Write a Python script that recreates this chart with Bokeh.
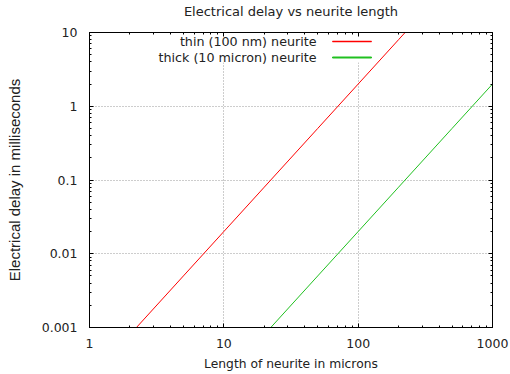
from bokeh.plotting import figure
from bokeh.models import (FixedTicker, LogAxis, CustomJSTickFormatter, Label,
                          BoxAnnotation)
from bokeh.embed import file_html
from bokeh.resources import INLINE

# ---- data ----
length_um = [1, 2, 5, 10, 20, 50, 100, 200, 500, 1000]
thin_delay_ms = [0.0002, 0.0008, 0.005, 0.02, 0.08, 0.5, 2, 8, 50, 200]
thick_delay_ms = [0.000002, 0.000008, 0.00005, 0.0002, 0.0008, 0.005, 0.02, 0.08, 0.5, 2]
x_ticks = [1, 10, 100, 1000]
y_ticks = [0.001, 0.01, 0.1, 1, 10]
series_names = ["thin (100 nm) neurite", "thick (10 micron) neurite"]
series_colors = ["#ff0000", "#20c020"]
title_text = "Electrical delay vs neurite length"

FONT = "DejaVu Sans"
TXT = "#222222"

def minors(majors):
    out = []
    for m in majors[:-1]:
        out += [m * k for k in range(2, 10)]
    return out

xt = FixedTicker(ticks=x_ticks, minor_ticks=minors(x_ticks))
yt = FixedTicker(ticks=y_ticks, minor_ticks=minors(y_ticks))
fmt = CustomJSTickFormatter(code="return tick.toString();")
blank = CustomJSTickFormatter(code="return '';")

p = figure(width=510, height=374, x_axis_type="log", y_axis_type="log",
           x_range=(1, 1000), y_range=(0.001, 10),
           output_backend="svg", toolbar_location=None,
           min_border_left=89, min_border_right=18, min_border_top=32,
           min_border_bottom=47)
p.background_fill_color = "white"
p.border_fill_color = "white"
p.outline_line_color = "black"
p.outline_line_width = 1

def style_axis(ax, show_labels):
    ax.axis_line_color = "black"
    ax.major_tick_in = 4
    ax.major_tick_out = 0
    ax.minor_tick_in = 2
    ax.minor_tick_out = 0
    ax.major_tick_line_color = "black"
    ax.minor_tick_line_color = "black"
    ax.major_label_text_font = FONT
    ax.major_label_text_color = TXT
    ax.major_label_text_font_size = "12.5px"
    if not show_labels:
        ax.major_label_standoff = 0

xa = p.xaxis[0]
xa.ticker = xt
xa.formatter = fmt
style_axis(xa, True)
xa.major_label_standoff = 11
xa.axis_label = "Length of neurite in microns"
xa.axis_label_text_font = FONT
xa.axis_label_text_font_size = "12.3px"
xa.axis_label_text_font_style = "normal"
xa.axis_label_text_color = TXT
xa.axis_label_standoff = 6

ya = p.yaxis[0]
ya.ticker = yt
ya.formatter = fmt
style_axis(ya, True)
ya.major_label_standoff = 12
ya.axis_label = "Electrical delay in milliseconds"
ya.axis_label_text_font = "Liberation Sans"
ya.axis_label_text_font_size = "15px"
ya.axis_label_text_font_style = "normal"
ya.axis_label_text_color = TXT
ya.axis_label_standoff = 16

# top axis: inward ticks only, and it carries the chart title as its label
top_ax = LogAxis(ticker=FixedTicker(ticks=x_ticks, minor_ticks=minors(x_ticks)), formatter=blank)
style_axis(top_ax, False)
top_ax.axis_label = title_text
top_ax.axis_label_text_font = FONT
top_ax.axis_label_text_font_size = "13px"
top_ax.axis_label_text_font_style = "normal"
top_ax.axis_label_text_color = TXT
top_ax.axis_label_standoff = 14
p.add_layout(top_ax, "above")
right_ax = LogAxis(ticker=FixedTicker(ticks=y_ticks, minor_ticks=minors(y_ticks)), formatter=blank)
style_axis(right_ax, False)
p.add_layout(right_ax, "right")

for g in (p.xgrid[0], p.ygrid[0]):
    g.grid_line_color = "#9a9a9a"
    g.grid_line_dash = "1 2"
    g.grid_line_width = 1
p.xgrid[0].ticker = xt
p.ygrid[0].ticker = yt

# opaque key background (hides grid under the key, as in the reference)
p.add_layout(BoxAnnotation(left=83, right=287, bottom=265, top=295,
                           left_units="screen", right_units="screen",
                           bottom_units="screen", top_units="screen",
                           fill_color="white", fill_alpha=1, line_color=None,
                           level="underlay"))

p.line(length_um, thin_delay_ms, line_color=series_colors[0], line_width=1)
p.line(length_um, thick_delay_ms, line_color=series_colors[1], line_width=1)

# key (gnuplot style: text right-aligned, sample line on the right)
legend_text_right = 227
legend_rows_y = [286, 270]
sample_x0, sample_x1 = 243, 282
for name, col, yy, lw in zip(series_names, series_colors, legend_rows_y, [1.5, 2]):
    p.add_layout(Label(x=legend_text_right, y=yy, x_units="screen", y_units="screen",
                       text=name, text_align="right", text_baseline="middle",
                       text_font=FONT, text_font_size="12.7px", text_color=TXT))
    p.add_layout(BoxAnnotation(left=sample_x0, right=sample_x1,
                               bottom=yy - 0.5, top=yy + 0.5,
                               left_units="screen", right_units="screen",
                               bottom_units="screen", top_units="screen",
                               fill_color=col, fill_alpha=1,
                               line_color=col, line_width=lw - 1,
                               line_alpha=1, level="overlay"))

open("out.html", "w").write(file_html(p, INLINE))
